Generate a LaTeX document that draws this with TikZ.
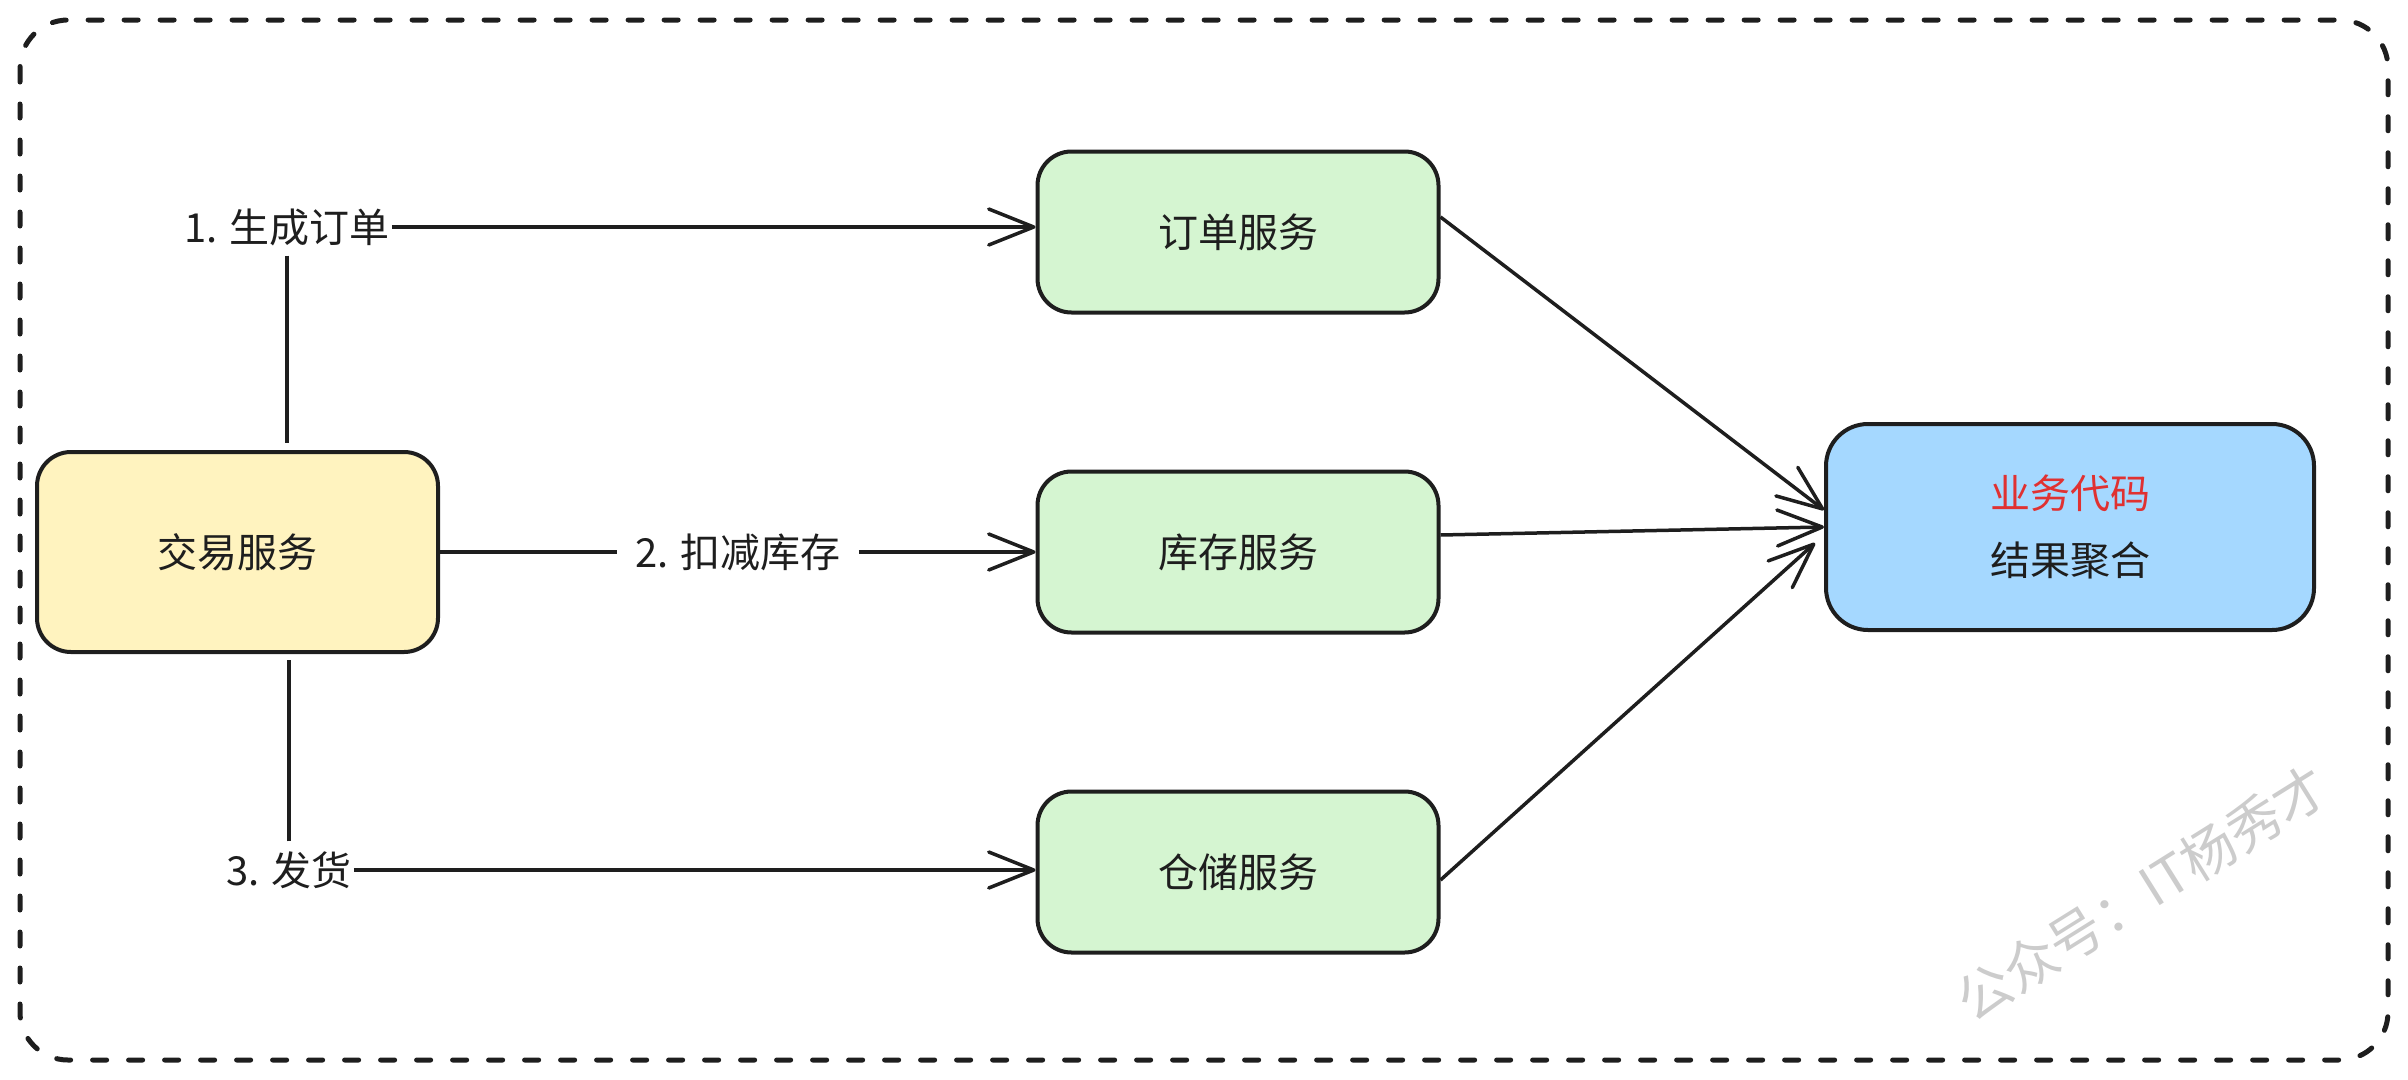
\documentclass[tikz,border=0pt]{standalone}
\usepackage{fontspec}
\newfontfamily\cjk{Noto Sans CJK SC}
\usetikzlibrary{arrows.meta}
\definecolor{ink}{HTML}{1E1E1E}
\definecolor{yellowfill}{HTML}{FFF3BF}
\definecolor{greenfill}{HTML}{D5F5D1}
\definecolor{bluefill}{HTML}{A5D8FF}
\definecolor{redtext}{HTML}{E03131}
\definecolor{wmgray}{HTML}{CCCCCC}
\begin{document}
\begin{tikzpicture}[x=1pt,y=-1pt,
  box/.style={draw=ink, line width=4pt, rounded corners=34pt,
    minimum width=401pt, minimum height=161pt, inner sep=0pt,
    font=\cjk\fontsize{40}{48}\selectfont, text=ink},
  lbl/.style={font=\cjk\fontsize{40}{48}\selectfont, text=ink, inner xsep=2pt, inner ysep=10pt},
  conn/.style={draw=ink, line width=3.5pt},
  arr/.style={conn, -{Straight Barb[length=45pt,width=36pt,round]}}]
\useasboundingbox (0,0) rectangle (2408,1079);
% outer dashed frame
\draw[ink, line width=5pt, dash pattern=on 14pt off 22pt, line cap=round, rounded corners=48pt]
  (20,20) rectangle (2388,1060);
% nodes
\node[box, fill=yellowfill, minimum height=200pt] (trade) at (237.5,552) {交易服务};
\node[box, fill=greenfill] (order) at (1238,232) {订单服务};
\node[box, fill=greenfill] (stock) at (1238,552) {库存服务};
\node[box, fill=greenfill] (store) at (1238,872) {仓储服务};
\node[box, fill=bluefill, minimum width=488pt, minimum height=206pt, rounded corners=42pt,
  align=center, font=\cjk\fontsize{40}{67}\selectfont] (agg) at (2070,527)
  {\textcolor{redtext}{业务代码}\\结果聚合};
% labels
\node[lbl] (l1) at (287,227) {1. 生成订单};
\node[lbl, inner xsep=18pt] (l2) at (738,552) {2. 扣减库存};
\node[lbl] (l3) at (289,870) {3. 发货};
% connectors
\draw[conn, shorten >=7pt] (l1.south) -- (l1.south |- trade.north);
\draw[arr] (l1.east) -- (l1.east -| order.west);
\draw[conn] (trade.east) -- (l2.west);
\draw[arr] (l2.east) -- (stock.west);
\draw[conn, shorten >=6pt] (l3.north) -- (l3.north |- trade.south);
\draw[arr] (l3.east) -- (l3.east -| store.west);
\draw[arr] ([yshift=15pt]order.east) -- ([yshift=17pt]agg.west);
\draw[arr] ([yshift=17pt]stock.east) -- (agg.west);
\draw[arr] ([yshift=-8pt]store.east) -- ([xshift=-9pt,yshift=-16pt]agg.west);
% watermark
\node[font=\cjk\fontsize{54}{60}\selectfont, text=wmgray, rotate=32] (wm) at (2142,893) {公众号：IT杨秀才};
\end{tikzpicture}
\end{document}
